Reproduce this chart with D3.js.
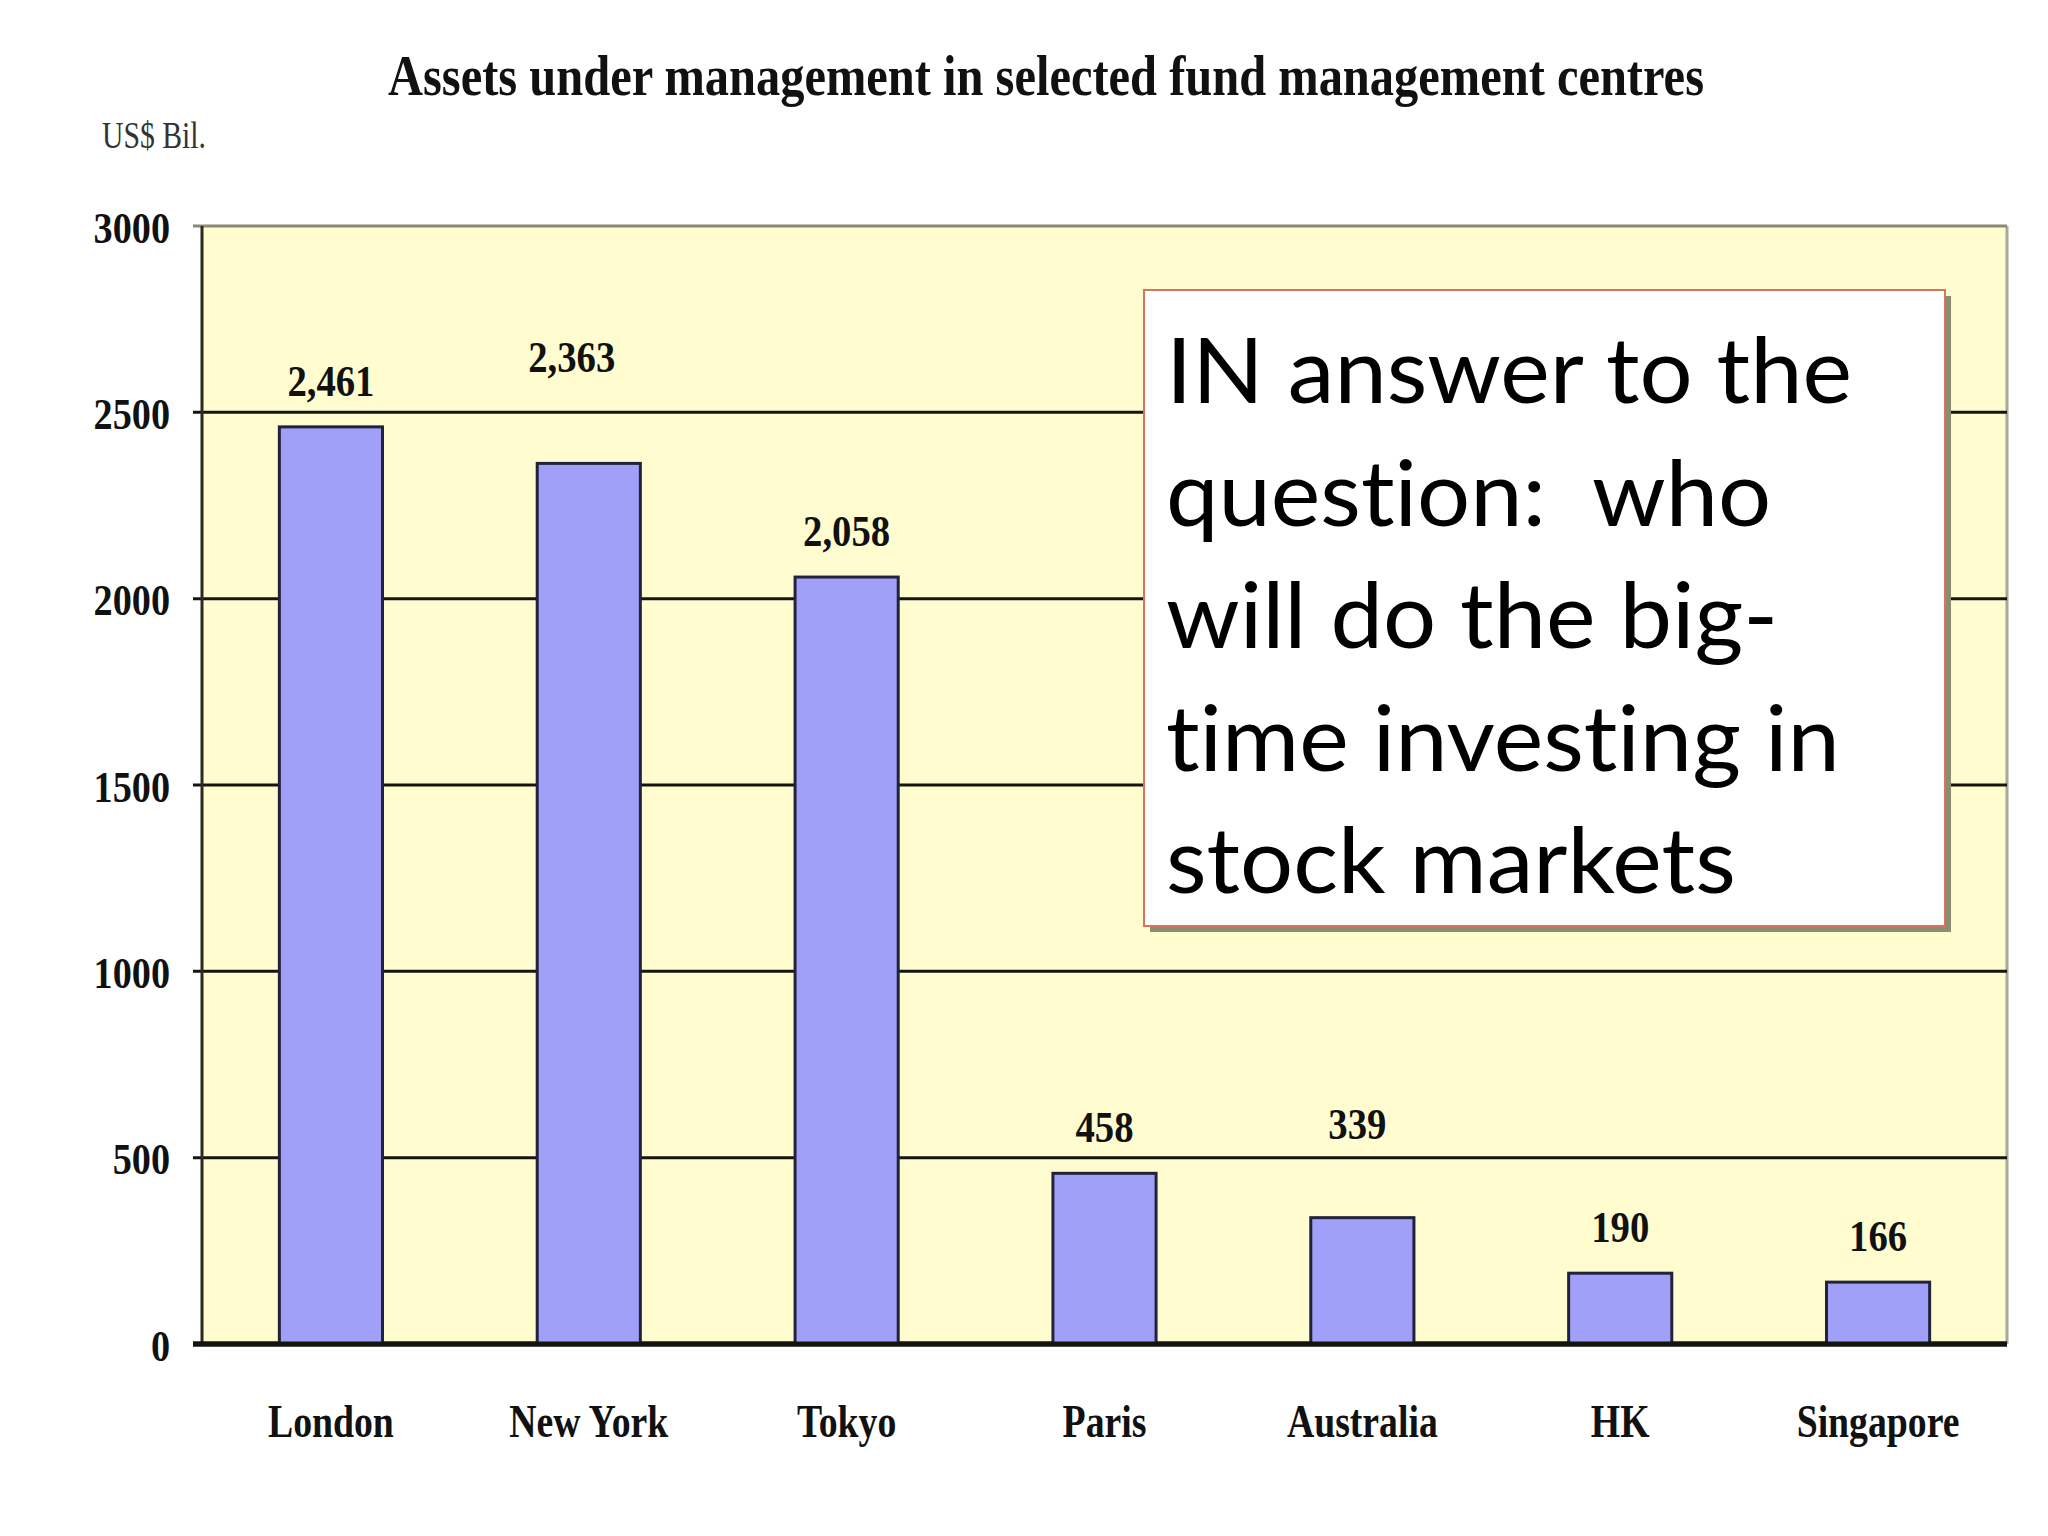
<!DOCTYPE html>
<html>
<head>
<meta charset="utf-8">
<script src="https://cdn.jsdelivr.net/npm/d3@7"></script>
<style>
  html, body { margin: 0; padding: 0; background: #fff; }
  svg { display: block; }
  .note text { white-space: pre; font-variant-ligatures: none; font-feature-settings: "liga" 0, "clig" 0; }
</style>
</head>
<body>
<div id="chart"></div>
<script>

// chart data
var centres = ['London', 'New York', 'Tokyo', 'Paris', 'Australia', 'HK', 'Singapore']
var assets = [2461, 2363, 2058, 458, 339, 190, 166]
var assetLabels = ['2,461', '2,363', '2,058', '458', '339', '190', '166']
var yTicks = [0, 500, 1000, 1500, 2000, 2500, 3000]

var titleText = 'Assets under management in selected fund management centres'
var unitText = 'US$ Bil.'
var noteLines = ['IN answer to the', 'question:  who', 'will do the big-', 'time investing in', 'stock markets']

// some value labels sit higher / off centre in the original picture (px)
var labelNudge = [[0, 0], [-17, -60], [0, 0], [0, 0], [-5, -48], [0, 0], [0, 0]]

// squash text horizontally, the original picture is narrow type
function squeeze(sel, k) {
    sel.each(function() {
        var w = this.getComputedTextLength()
        d3.select(this).attr('textLength', w * k).attr('lengthAdjust', 'spacingAndGlyphs')
    })
}

function fitWidth(sel, w) {
    sel.attr('textLength', w).attr('lengthAdjust', 'spacingAndGlyphs')
}

function draw() {
    var W = 2048, H = 1536
    var margin = {top: 226, right: 41, bottom: 192, left: 202}
    var width = W - margin.left - margin.right,
        height = H - margin.top - margin.bottom

    var serif = '"Liberation Serif", "Times New Roman", serif'

    var svg = d3.select('#chart')
        .append('svg')
            .attr('width', W)
            .attr('height', H)

    svg.append('rect')
        .attr('width', W).attr('height', H)
        .attr('fill', '#ffffff')

    // title
    svg.append('text')
        .attr('x', 388).attr('y', 95)
        .attr('font-family', serif)
        .attr('font-weight', 'bold')
        .attr('font-size', 56)
        .attr('fill', '#111')
        .text(titleText)
        .call(fitWidth, 1316)

    svg.append('text')
        .attr('x', 102).attr('y', 148)
        .attr('font-family', serif)
        .attr('font-size', 38)
        .attr('fill', '#333')
        .text(unitText)
        .call(fitWidth, 104)

    var g = svg.append('g')
        .attr('transform', 'translate(' + margin.left + ',' + margin.top + ')')

    var x = d3.scaleBand()
        .domain(centres)
        .range([0, width])
        .paddingInner(0.6)
        .paddingOuter(0.3)

    var y = d3.scaleLinear()
        .domain([0, 3000])
        .range([height, 0])

    // plot background
    g.append('rect')
        .attr('width', width).attr('height', height)
        .attr('fill', '#fffdd0')

    // right border
    g.append('line')
        .attr('x1', width).attr('x2', width)
        .attr('y1', 0).attr('y2', height)
        .style('stroke', '#a8a898')
        .style('stroke-width', 3)

    // grid lines
    g.selectAll('line.grid')
        .data(yTicks)
        .enter()
        .append('line')
        .attr('class', 'grid')
        .attr('x1', -9).attr('x2', width)
        .attr('y1', function(d) { return y(d) })
        .attr('y2', function(d) { return y(d) })
        .style('stroke', function(d) { return d === 3000 ? '#8a8a6e' : '#151510' })
        .style('stroke-width', function(d) { return d === 0 ? 5 : 3 })

    // y axis labels
    var yAxis = d3.axisLeft(y)
        .tickValues(yTicks)
        .tickFormat(d3.format('d'))
        .tickSize(0)
        .tickPadding(32)

    var yg = g.append('g').call(yAxis)
    yg.select('.domain').remove()
    yg.selectAll('text')
        .attr('font-family', serif)
        .attr('font-weight', 'bold')
        .attr('font-size', 45)
        .attr('fill', '#111')
        .attr('dy', '0.36em')
        .call(squeeze, 0.85)

    // left axis line
    g.append('line')
        .attr('x1', 0).attr('x2', 0)
        .attr('y1', 0).attr('y2', height)
        .style('stroke', '#2a2a22')
        .style('stroke-width', 3)

    // bars
    g.selectAll('rect.bar')
        .data(assets)
        .enter()
        .append('rect')
        .attr('class', 'bar')
        .attr('x', function(d, i) { return x(centres[i]) })
        .attr('y', function(d) { return y(d) })
        .attr('width', x.bandwidth())
        .attr('height', function(d) { return height - y(d) })
        .attr('fill', '#a0a0f8')
        .style('stroke', '#22223a')
        .style('stroke-width', 3)

    // redraw the base line over bar bottoms
    g.append('line')
        .attr('x1', -9).attr('x2', width)
        .attr('y1', y(0)).attr('y2', y(0))
        .style('stroke', '#151510')
        .style('stroke-width', 5)

    // value labels
    g.selectAll('text.val')
        .data(assets)
        .enter()
        .append('text')
        .attr('class', 'val')
        .attr('x', function(d, i) { return x(centres[i]) + x.bandwidth() / 2 + labelNudge[i][0] })
        .attr('y', function(d, i) { return y(d) - 31 + labelNudge[i][1] })
        .attr('text-anchor', 'middle')
        .attr('font-family', serif)
        .attr('font-weight', 'bold')
        .attr('font-size', 45)
        .attr('fill', '#111')
        .text(function(d, i) { return assetLabels[i] })
        .call(squeeze, 0.86)

    // category labels
    g.selectAll('text.cat')
        .data(centres)
        .enter()
        .append('text')
        .attr('class', 'cat')
        .attr('x', function(d) { return x(d) + x.bandwidth() / 2 })
        .attr('y', height + 93)
        .attr('text-anchor', 'middle')
        .attr('font-family', serif)
        .attr('font-weight', 'bold')
        .attr('font-size', 46)
        .attr('fill', '#111')
        .text(function(d) { return d })
        .call(squeeze, 0.82)

    // note box
    var box = {x: 1144, y: 290, w: 801, h: 636}
    svg.append('rect')
        .attr('x', box.x + 6).attr('y', box.y + 6)
        .attr('width', box.w).attr('height', box.h)
        .attr('fill', '#8c8c72')
    svg.append('rect')
        .attr('x', box.x).attr('y', box.y)
        .attr('width', box.w).attr('height', box.h)
        .attr('fill', '#ffffff')
        .style('stroke', '#d9725e')
        .style('stroke-width', 2)

    var note = svg.append('g').attr('class', 'note')
    note.selectAll('text')
        .data(noteLines)
        .enter()
        .append('text')
        .attr('x', 1166)
        .attr('y', function(d, i) { return 403 + i * 122.5 })
        .attr('font-family', 'Lato, "Open Sans", sans-serif')
        .attr('font-size', 92)
        .attr('fill', '#000')
        .text(function(d) { return d })

    // fit the note's first line to 686 px and use the same factor for the rest
    var first = note.select('text').node().getComputedTextLength()
    note.selectAll('text').call(squeeze, 686 / first)
}

if (document.fonts && document.fonts.ready) {
    document.fonts.ready.then(draw)
} else {
    draw()
}

</script>
</body>
</html>
